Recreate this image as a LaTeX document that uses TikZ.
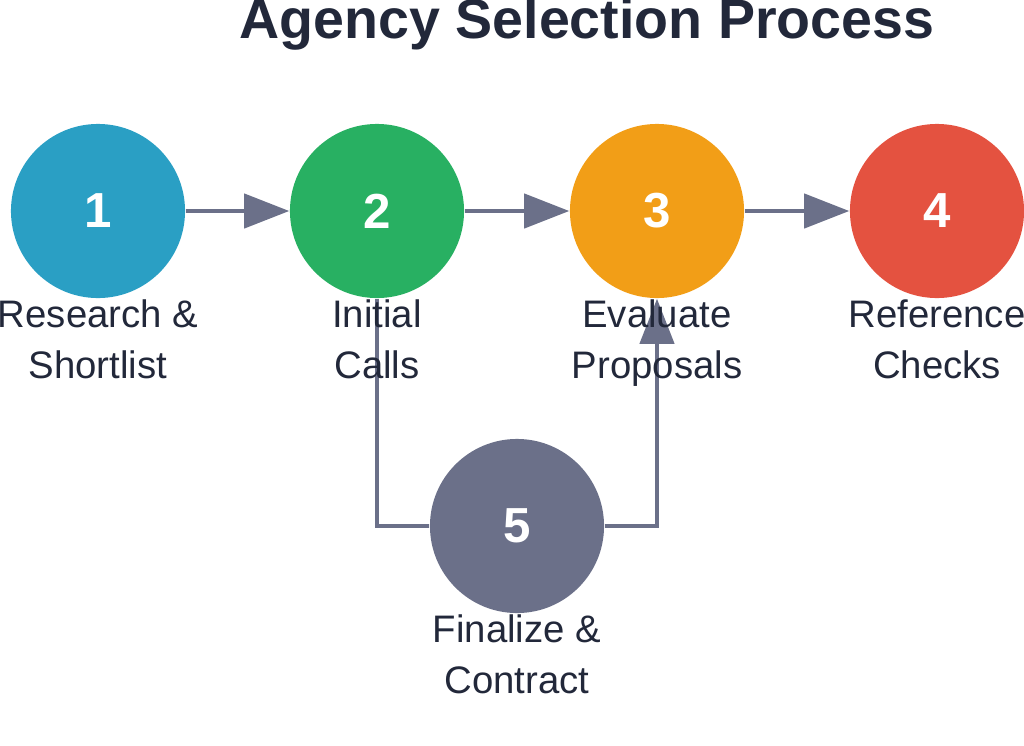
\documentclass[tikz,border=0pt]{standalone}
\usepackage{fontspec}
\setmainfont{Liberation Sans}
\usetikzlibrary{arrows.meta}
\definecolor{cA}{HTML}{2A9FC4}
\definecolor{cB}{HTML}{28B062}
\definecolor{cC}{HTML}{F29E17}
\definecolor{cD}{HTML}{E45240}
\definecolor{cE}{HTML}{6B7089}
\definecolor{ln}{HTML}{6B7089}
\definecolor{tx}{HTML}{22283A}
\tikzset{
  stage/.style={circle, minimum size=1.74cm, inner sep=0pt, text=white,
    font=\fontsize{14}{14}\selectfont\bfseries},
  lbl/.style={align=center, text=tx, font=\fontsize{10.9}{14.5}\selectfont},
  flow/.style={draw=ln, line width=1.2pt, -{Triangle[length=0.45cm,width=0.34cm]}},
  link/.style={draw=ln, line width=1.2pt}
}
\begin{document}
\begin{tikzpicture}[x=0.01cm,y=-0.01cm]
\useasboundingbox (0,0) rectangle (1024,745);
\node[font=\fontsize{15.8}{15.8}\selectfont\bfseries, text=tx] (title) at (587,24) {Agency Selection Process};
\node[stage, fill=cA] (s1) at (98,211) {1};
\node[stage, fill=cB] (s2) at (377,211) {2};
\node[stage, fill=cC] (s3) at (657,211) {3};
\node[stage, fill=cD] (s4) at (937,211) {4};
\node[stage, fill=cE] (s5) at (517,526) {5};
\coordinate (c2) at (377,526);
\coordinate (c3) at (657,526);
\draw[flow] (s1) -- (s2);
\draw[flow] (s2) -- (s3);
\draw[flow] (s3) -- (s4);
\draw[link] (s2.south) -- (c2) -- (s5.west);
\draw[flow] (s5.east) -- (c3) -- (s3.south);
\node[lbl, anchor=base] (l1) at (98,378) {Research \&\\Shortlist};
\node[lbl, anchor=base] (l2) at (377,378) {Initial\\Calls};
\node[lbl, anchor=base] (l3) at (657,378) {Evaluate\\Proposals};
\node[lbl, anchor=base] (l4) at (937,378) {Reference\\Checks};
\node[lbl, anchor=base] (l5) at (517,693) {Finalize \&\\Contract};
\end{tikzpicture}
\end{document}
